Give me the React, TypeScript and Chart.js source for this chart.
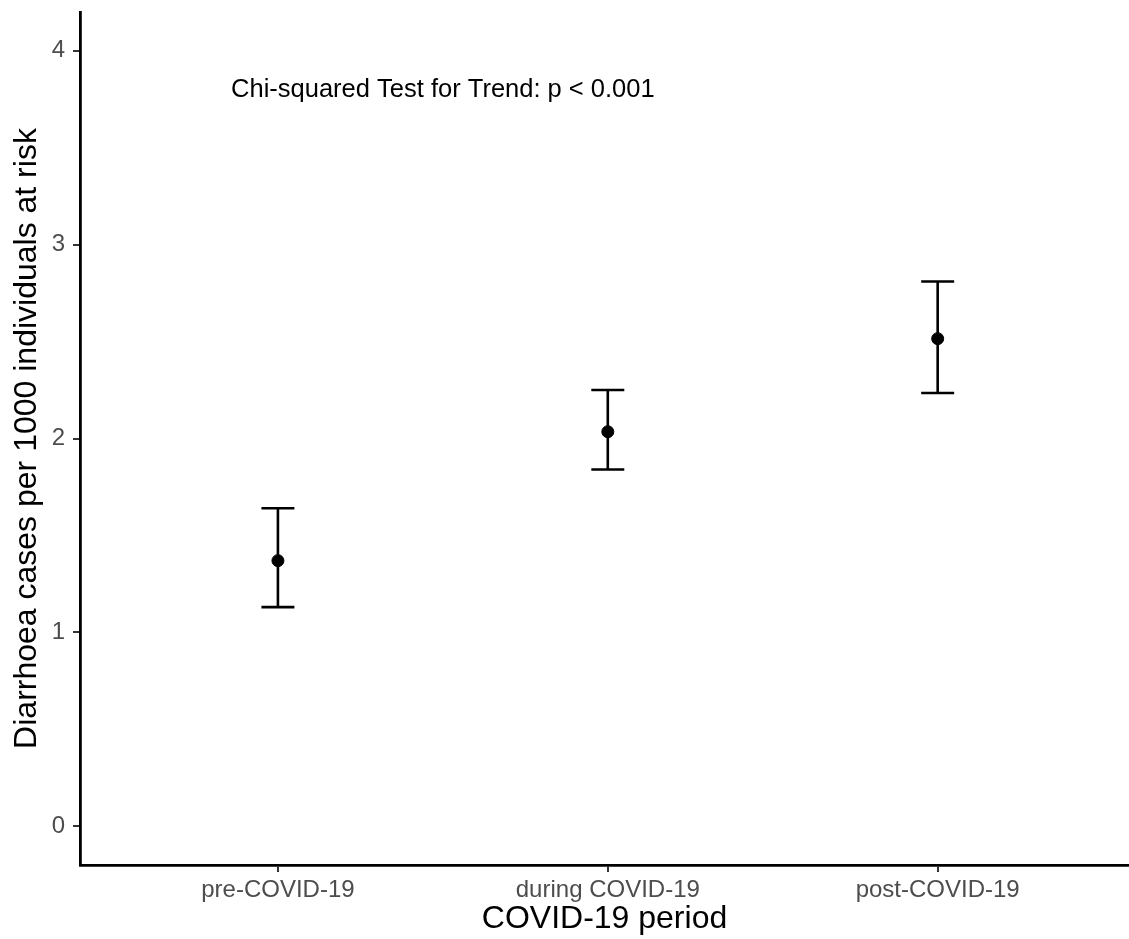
import React, { useEffect, useRef } from "react";
import { Chart, registerables } from "chart.js";

Chart.register(...registerables);

const categories = ["pre-COVID-19", "during COVID-19", "post-COVID-19"];
const rateValues = [1.37, 2.035, 2.515];
const lowerCI = [1.13, 1.84, 2.235];
const upperCI = [1.64, 2.25, 2.81];
const yTickValues = [0, 1, 2, 3, 4];
const annotationText = "Chi-squared Test for Trend: p < 0.001";
const xTitle = "COVID-19 period";
const yTitle = "Diarrhoea cases per 1000 individuals at risk";

const FONT = "'Liberation Sans', Arial, Helvetica, sans-serif";
const CAP_HALF = 0.05;

export default function App() {
  const canvasRef = useRef<HTMLCanvasElement | null>(null);

  useEffect(() => {
    const canvas = canvasRef.current;
    if (!canvas) return;

    const whiskers: any[] = [];
    const caps: any[] = [];
    categories.forEach((_, i) => {
      const x = i + 1;
      whiskers.push({ x, y: lowerCI[i] }, { x, y: upperCI[i] }, { x, y: null });
      caps.push(
        { x: x - CAP_HALF, y: upperCI[i] },
        { x: x + CAP_HALF, y: upperCI[i] },
        { x, y: null },
        { x: x - CAP_HALF, y: lowerCI[i] },
        { x: x + CAP_HALF, y: lowerCI[i] },
        { x, y: null }
      );
    });
    const points = categories.map((_, i) => ({ x: i + 1, y: rateValues[i] }));

    const annotationPlugin = {
      id: "annot",
      afterDraw(chart: any) {
        const { ctx, scales } = chart;
        ctx.save();
        ctx.font = `25.5px ${FONT}`;
        ctx.fillStyle = "#000";
        ctx.textAlign = "center";
        ctx.textBaseline = "middle";
        ctx.fillText(annotationText, scales.x.getPixelForValue(1.5), scales.y.getPixelForValue(3.8));
        ctx.restore();
      },
    };

    const chart = new Chart(canvas, {
      type: "scatter",
      data: {
        datasets: [
          {
            type: "line",
            data: whiskers,
            borderColor: "#000",
            borderWidth: 2.6,
            pointRadius: 0,
            spanGaps: false,
            fill: false,
          } as any,
          {
            type: "line",
            data: caps,
            borderColor: "#000",
            borderWidth: 2.6,
            pointRadius: 0,
            spanGaps: false,
            fill: false,
          } as any,
          {
            data: points,
            backgroundColor: "#000",
            borderColor: "#000",
            pointRadius: 6,
            pointHoverRadius: 6,
          },
        ],
      },
      options: {
        animation: false,
        responsive: false,
        maintainAspectRatio: false,
        layout: { autoPadding: false, padding: { top: 12, right: 0, left: 0, bottom: 0 } },
        plugins: { legend: { display: false }, tooltip: { enabled: false } },
        scales: {
          x: {
            type: "linear",
            min: 0.4,
            max: 3.58,
            afterBuildTicks: (scale: any) => {
              scale.ticks = categories.map((_, i) => ({ value: i + 1 }));
            },
            afterFit: (scale: any) => {
              scale.height = 74;
              scale.paddingLeft = 0;
              scale.paddingRight = 0;
            },
            ticks: {
              callback: (v: any) => categories[Math.round(Number(v)) - 1] ?? "",
              color: "#4d4d4d",
              font: { family: FONT, size: 24 },
              padding: 4,
              maxRotation: 0,
              autoSkip: false,
            },
            grid: {
              drawOnChartArea: false,
              drawTicks: true,
              tickLength: 7,
              color: "#333",
              lineWidth: 2,
            },
            border: { display: true, color: "#000", width: 2.8 },
            title: {
              display: true,
              text: xTitle,
              color: "#000",
              font: { family: FONT, size: 32 },
              padding: { top: 0, bottom: 1 },
            },
          },
          y: {
            type: "linear",
            min: -0.2,
            max: 4.2,
            afterBuildTicks: (scale: any) => {
              scale.ticks = yTickValues.map((v) => ({ value: v }));
            },
            afterFit: (scale: any) => {
              scale.width = 80;
              scale.paddingTop = 0;
              scale.paddingBottom = 0;
            },
            ticks: {
              color: "#4d4d4d",
              font: { family: FONT, size: 24 },
              padding: 8,
              callback: (v: any) => String(v),
            },
            grid: {
              drawOnChartArea: false,
              drawTicks: true,
              tickLength: 7,
              color: "#333",
              lineWidth: 2,
            },
            border: { display: true, color: "#000", width: 2.8 },
            title: {
              display: true,
              text: yTitle,
              color: "#000",
              font: { family: FONT, size: 32 },
              padding: { top: 8, bottom: 0 },
            },
          },
        },
      },
      plugins: [annotationPlugin],
    } as any);

    return () => chart.destroy();
  }, []);

  return (
    <div style={{ position: "fixed", left: 0, top: 0, width: 1129, height: 939, background: "#fff" }}>
      <canvas ref={canvasRef} width={1129} height={939} style={{ width: 1129, height: 939 }} />
    </div>
  );
}
